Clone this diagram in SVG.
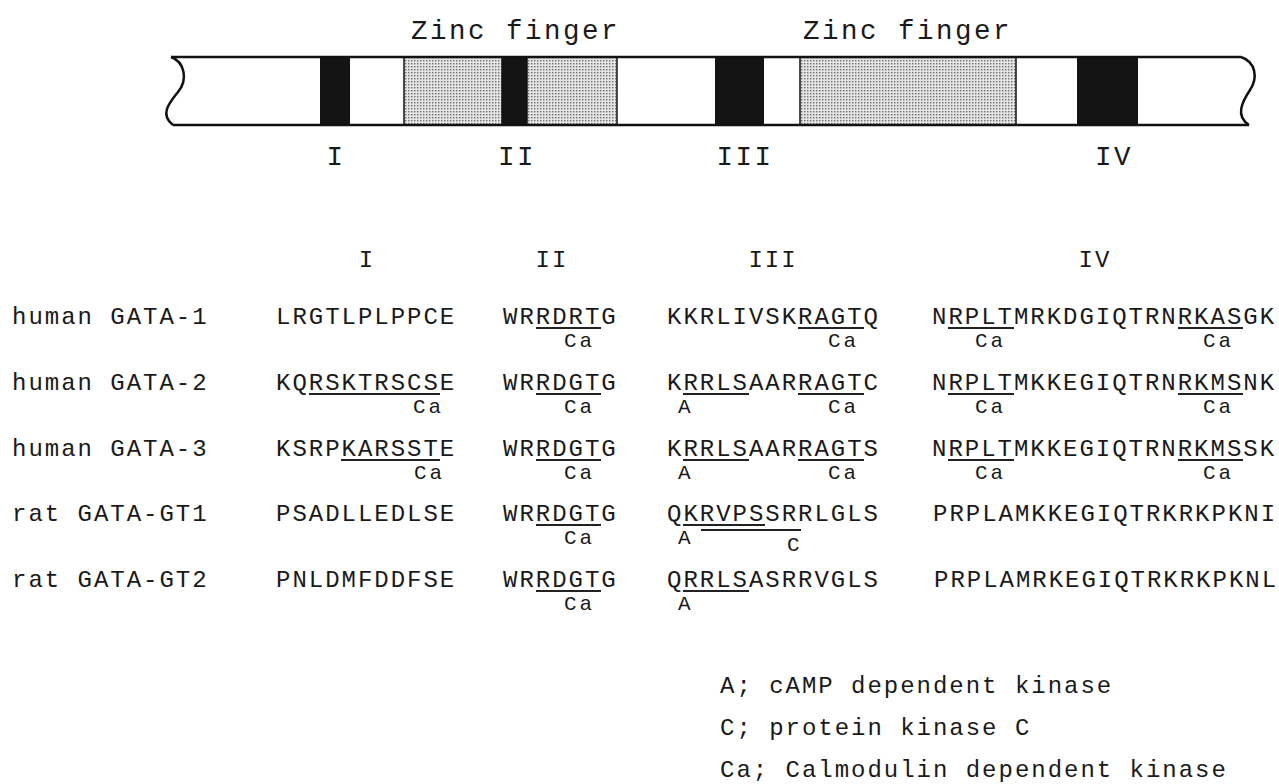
<svg xmlns="http://www.w3.org/2000/svg" width="1279" height="784" viewBox="0 0 1279 784">
<defs>
<style>
text { font-family: "Liberation Mono", "DejaVu Sans Mono", monospace; fill: #1a1a1a; }
.s { font-size: 24px; letter-spacing: 1.98px; }
.a { font-size: 21px; letter-spacing: 3px; }
.b { font-size: 27.5px; letter-spacing: 2.5px; }
.m { text-anchor: middle; }
.ul { stroke: #222; stroke-width: 1.8; fill: none; }
.edge { stroke: #111; stroke-width: 2.5; fill: none; }
.blk { fill: #141414; }
.dot { fill: url(#dots); stroke: #111; stroke-width: 1.5; }
</style>
<pattern id="dots" width="3" height="3" patternUnits="userSpaceOnUse">
<rect width="3" height="3" fill="#e4e4e4"/>
<rect x="0" y="0" width="1.4" height="1.4" fill="#707070"/>
</pattern>
</defs>
<rect width="1279" height="784" fill="#ffffff"/>

<g id="protein-bar">
<path d="M171,57 L1241,57 C1256,62 1258,78 1250,90 C1242,102 1235,116 1249,125 L173,125 C160,115 168,104 178,92 C188,80 185,62 171,57 Z" fill="#ffffff"/>
<rect class="blk" x="320" y="57" width="30" height="68"/>
<rect class="dot" x="404" y="57" width="98" height="68"/>
<rect class="blk" x="502" y="57" width="25" height="68"/>
<rect class="dot" x="527" y="57" width="90" height="68"/>
<rect class="blk" x="715" y="57" width="49" height="68"/>
<rect class="dot" x="800" y="57" width="216" height="68"/>
<rect class="blk" x="1077" y="57" width="61" height="68"/>
<path class="edge" d="M171,57 L1241,57 M173,125 L1249,125"/>
<path class="edge" d="M171,57 C185,62 188,80 178,92 C168,104 160,115 173,125"/>
<path class="edge" d="M1241,57 C1256,62 1258,78 1250,90 C1242,102 1235,116 1249,125"/>
</g>

<g id="zinc-labels">
<text class="b" x="411" y="39">Zinc finger</text>
<text class="b" x="803" y="39">Zinc finger</text>
</g>

<g id="bar-region-labels">
<text class="b m" x="336" y="165">I</text>
<text class="b m" x="517" y="165">II</text>
<text class="b m" x="745" y="165">III</text>
<text class="b m" x="1114" y="165">IV</text>
</g>

<g id="column-headers">
<text class="s m" x="367" y="267">I</text>
<text class="s m" x="552" y="267">II</text>
<text class="s m" x="773" y="267">III</text>
<text class="s m" x="1095" y="267">IV</text>
</g>

<g id="row-human-gata1">
<text class="s" x="12" y="324">human GATA-1</text>
<text class="s" x="276" y="324">LRGTLPLPPCE</text>
<text class="s" x="503" y="324">WRRDRTG</text>
<text class="s" x="667" y="324">KKRLIVSKRAGTQ</text>
<text class="s" x="932" y="324">NRPLTMRKDGIQTRNRKASGK</text>
<path class="ul" d="M536,328 H601 M798,328 H864 M948,328 H1014 M1178,328 H1243"/>
<text class="a" x="564" y="347">Ca</text>
<text class="a" x="828" y="347">Ca</text>
<text class="a" x="975" y="347">Ca</text>
<text class="a" x="1203" y="347">Ca</text>
</g>

<g id="row-human-gata2">
<text class="s" x="12" y="390">human GATA-2</text>
<text class="s" x="276" y="390">KQRSKTRSCSE</text>
<text class="s" x="503" y="390">WRRDGTG</text>
<text class="s" x="667" y="390">KRRLSAARRAGTC</text>
<text class="s" x="932" y="390">NRPLTMKKEGIQTRNRKMSNK</text>
<path class="ul" d="M309,394 H440 M536,394 H601 M683,394 H749 M798,394 H864 M948,394 H1014 M1178,394 H1243"/>
<text class="a" x="413" y="413">Ca</text>
<text class="a" x="564" y="413">Ca</text>
<text class="a" x="678" y="413">A</text>
<text class="a" x="828" y="413">Ca</text>
<text class="a" x="975" y="413">Ca</text>
<text class="a" x="1203" y="413">Ca</text>
</g>

<g id="row-human-gata3">
<text class="s" x="12" y="456">human GATA-3</text>
<text class="s" x="276" y="456">KSRPKARSSTE</text>
<text class="s" x="503" y="456">WRRDGTG</text>
<text class="s" x="667" y="456">KRRLSAARRAGTS</text>
<text class="s" x="932" y="456">NRPLTMKKEGIQTRNRKMSSK</text>
<path class="ul" d="M341,460 H440 M536,460 H601 M683,460 H749 M798,460 H864 M948,460 H1014 M1178,460 H1243"/>
<text class="a" x="414" y="479">Ca</text>
<text class="a" x="564" y="479">Ca</text>
<text class="a" x="678" y="479">A</text>
<text class="a" x="828" y="479">Ca</text>
<text class="a" x="975" y="479">Ca</text>
<text class="a" x="1203" y="479">Ca</text>
</g>

<g id="row-rat-gata-gt1">
<text class="s" x="12" y="521">rat GATA-GT1</text>
<text class="s" x="276" y="521">PSADLLEDLSE</text>
<text class="s" x="503" y="521">WRRDGTG</text>
<text class="s" x="667" y="521">QKRVPSSRRLGLS</text>
<text class="s" x="933" y="521">PRPLAMKKEGIQTRKRKPKNI</text>
<path class="ul" d="M536,525 H601 M683,525 H765 M701,530 H801"/>
<text class="a" x="564" y="544">Ca</text>
<text class="a" x="678" y="544">A</text>
<text class="a" x="787" y="551">C</text>
</g>

<g id="row-rat-gata-gt2">
<text class="s" x="12" y="587">rat GATA-GT2</text>
<text class="s" x="276" y="587">PNLDMFDDFSE</text>
<text class="s" x="503" y="587">WRRDGTG</text>
<text class="s" x="667" y="587">QRRLSASRRVGLS</text>
<text class="s" x="934" y="587">PRPLAMRKEGIQTRKRKPKNL</text>
<path class="ul" d="M536,591 H601 M683,591 H749"/>
<text class="a" x="564" y="610">Ca</text>
<text class="a" x="678" y="610">A</text>
</g>

<g id="legend">
<text class="s" x="720" y="693">A; cAMP dependent kinase</text>
<text class="s" x="720" y="735">C; protein kinase C</text>
<text class="s" x="720" y="777">Ca; Calmodulin dependent kinase</text>
</g>
</svg>
